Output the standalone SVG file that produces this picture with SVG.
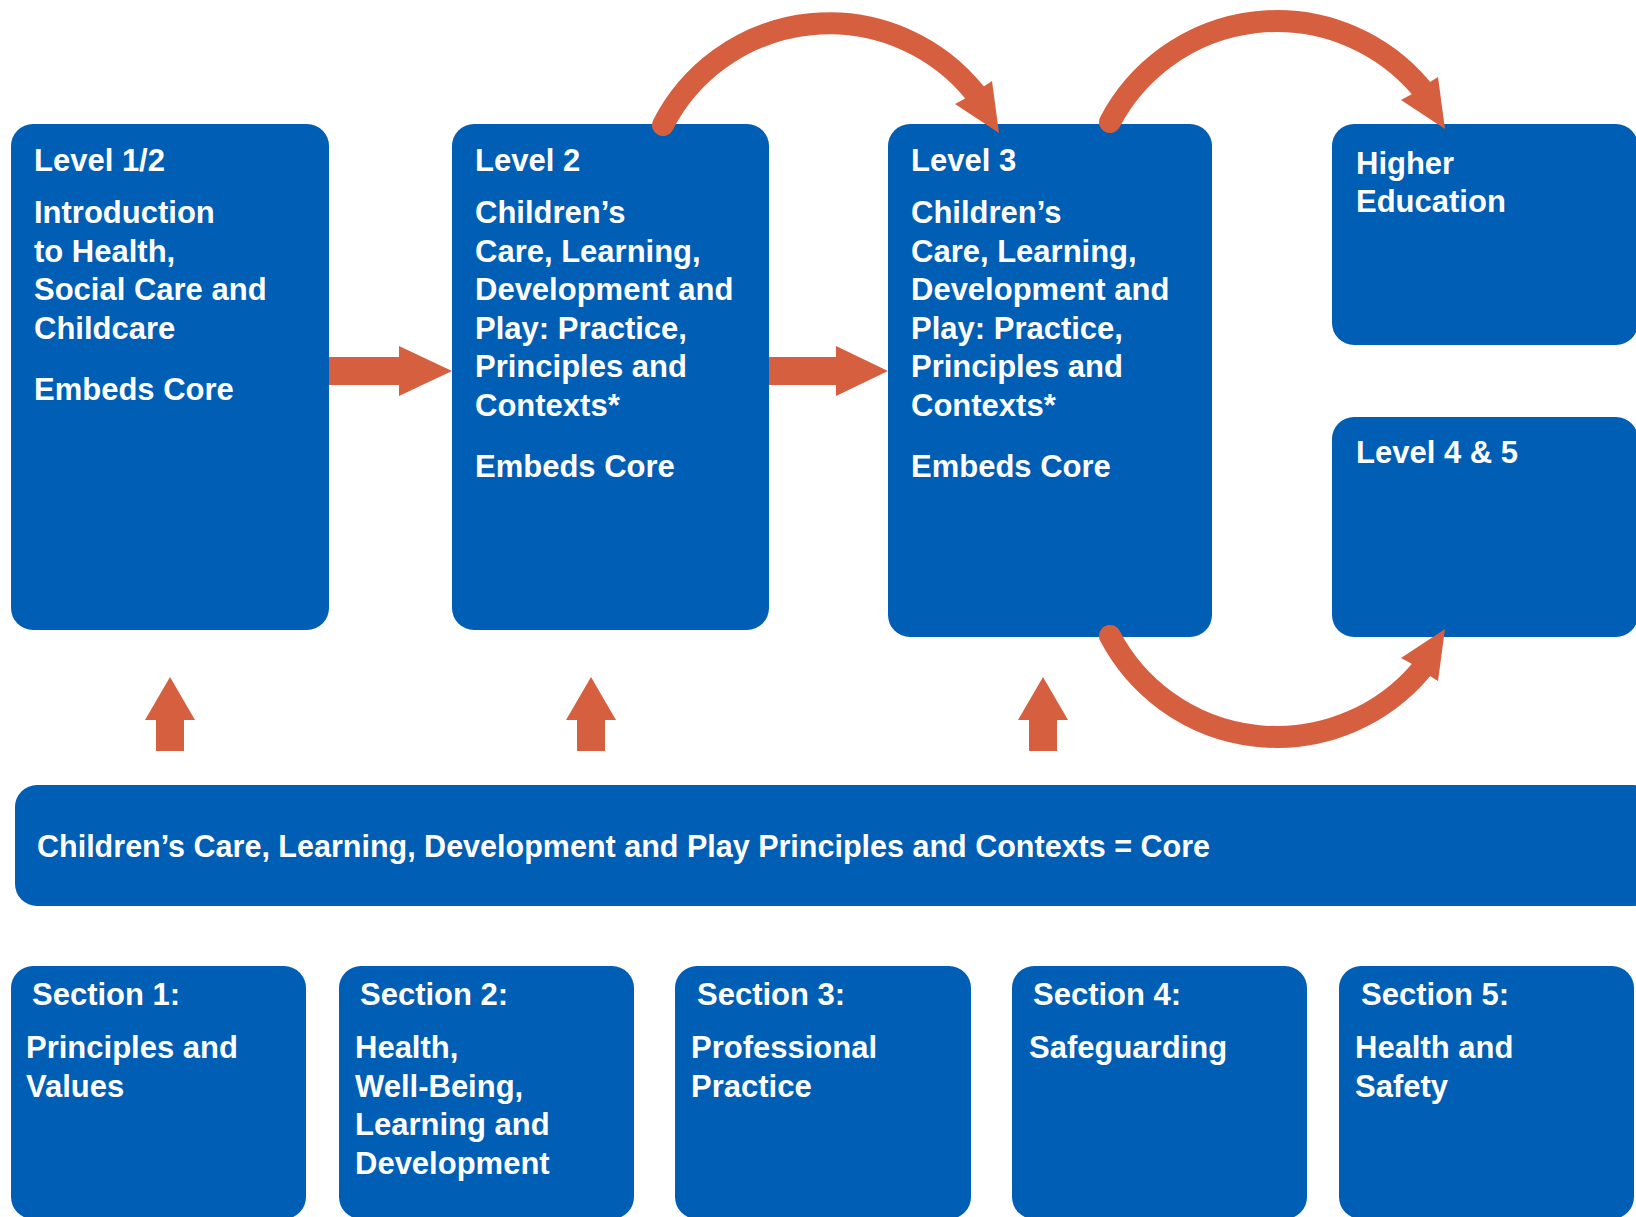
<svg xmlns="http://www.w3.org/2000/svg" width="1636" height="1217" viewBox="0 0 1636 1217">
<style>
.box{fill:#005EB5}
.t{fill:#ffffff;font-family:"Liberation Sans",Arial,sans-serif;font-weight:bold;font-size:31px}
.arc{fill:none;stroke:#D65F40;stroke-width:22}
.ah{fill:#D65F40}
</style>
<rect width="1636" height="1217" fill="#ffffff"/>
<g id="level12">
<rect class="box" x="11" y="124" width="318" height="506" rx="22"/>
<text class="t" x="34" y="171">Level 1/2</text>
<text class="t" x="34" y="223">Introduction</text>
<text class="t" x="34" y="262">to Health,</text>
<text class="t" x="34" y="300">Social Care and</text>
<text class="t" x="34" y="339">Childcare</text>
<text class="t" x="34" y="400">Embeds Core</text>
</g>
<g id="level2">
<rect class="box" x="452" y="124" width="317" height="506" rx="22"/>
<text class="t" x="475" y="171">Level 2</text>
<text class="t" x="475" y="223">Children’s</text>
<text class="t" x="475" y="262">Care, Learning,</text>
<text class="t" x="475" y="300">Development and</text>
<text class="t" x="475" y="339">Play: Practice,</text>
<text class="t" x="475" y="377">Principles and</text>
<text class="t" x="475" y="416">Contexts*</text>
<text class="t" x="475" y="477">Embeds Core</text>
</g>
<g id="level3">
<rect class="box" x="888" y="124" width="324" height="513" rx="22"/>
<text class="t" x="911" y="171">Level 3</text>
<text class="t" x="911" y="223">Children’s</text>
<text class="t" x="911" y="262">Care, Learning,</text>
<text class="t" x="911" y="300">Development and</text>
<text class="t" x="911" y="339">Play: Practice,</text>
<text class="t" x="911" y="377">Principles and</text>
<text class="t" x="911" y="416">Contexts*</text>
<text class="t" x="911" y="477">Embeds Core</text>
</g>
<g id="higher-education">
<rect class="box" x="1332" y="124" width="306" height="221" rx="22"/>
<text class="t" x="1356" y="174">Higher</text>
<text class="t" x="1356" y="212">Education</text>
</g>
<g id="level45">
<rect class="box" x="1332" y="417" width="306" height="220" rx="22"/>
<text class="t" x="1356" y="463">Level 4 &amp; 5</text>
</g>
<g id="core">
<rect class="box" x="15" y="785" width="1640" height="121" rx="22"/>
<text class="t" x="37" y="857" textLength="1173" lengthAdjust="spacingAndGlyphs">Children’s Care, Learning, Development and Play Principles and Contexts = Core</text>
</g>
<g id="section1">
<rect class="box" x="11" y="966" width="295" height="253" rx="22"/>
<text class="t" x="32" y="1005">Section 1:</text>
<text class="t" x="26" y="1058">Principles and</text>
<text class="t" x="26" y="1097">Values</text>
</g>
<g id="section2">
<rect class="box" x="339" y="966" width="295" height="253" rx="22"/>
<text class="t" x="360" y="1005">Section 2:</text>
<text class="t" x="355" y="1058">Health,</text>
<text class="t" x="355" y="1097">Well-Being,</text>
<text class="t" x="355" y="1135">Learning and</text>
<text class="t" x="355" y="1174">Development</text>
</g>
<g id="section3">
<rect class="box" x="675" y="966" width="296" height="253" rx="22"/>
<text class="t" x="697" y="1005">Section 3:</text>
<text class="t" x="691" y="1058">Professional</text>
<text class="t" x="691" y="1097">Practice</text>
</g>
<g id="section4">
<rect class="box" x="1012" y="966" width="295" height="253" rx="22"/>
<text class="t" x="1033" y="1005">Section 4:</text>
<text class="t" x="1029" y="1058">Safeguarding</text>
</g>
<g id="section5">
<rect class="box" x="1339" y="966" width="295" height="253" rx="22"/>
<text class="t" x="1361" y="1005">Section 5:</text>
<text class="t" x="1355" y="1058">Health and</text>
<text class="t" x="1355" y="1097">Safety</text>
</g>
<g id="connectors">
<polygon class="ah" points="329,357 399,357 399,346 452,371 399,396 399,385 329,385"/>
<polygon class="ah" points="769,357 836,357 836,346 888,371 836,396 836,385 769,385"/>
<polygon class="ah" points="156,751 156,720 145,720 170,677 195,720 184,720 184,751"/>
<polygon class="ah" points="577,751 577,720 566,720 591,677 616,720 605,720 605,751"/>
<polygon class="ah" points="1029,751 1029,720 1018,720 1043,677 1068,720 1057,720 1057,751"/>
<path class="arc" stroke-linecap="round" d="M663,125 A187,187 0 0 1 975,93"/>
<polygon class="ah" points="999,133 955,104 966,98 983,87 992,81"/>
<path class="arc" stroke-linecap="round" d="M1110,122 A188.5,188.5 0 0 1 1421,88"/>
<polygon class="ah" points="1445,129 1401,100 1412,94 1430,82 1438,77"/>
<path class="arc" stroke-linecap="round" d="M1110,636 A188.5,188.5 0 0 0 1421,670"/>
<polygon class="ah" points="1445,629 1401,658 1412,664 1430,676 1438,681"/>
</g>
</svg>
